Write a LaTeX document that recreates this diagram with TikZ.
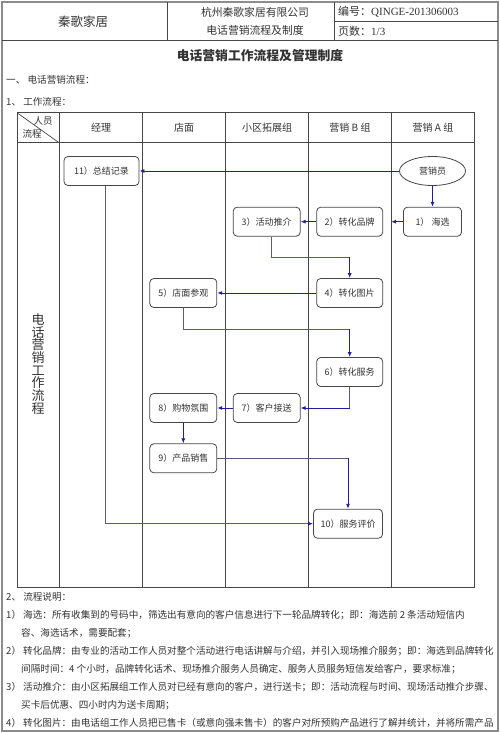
\documentclass[tikz,border=0pt]{standalone}
\usepackage{fontspec}
\setmainfont{Liberation Serif}
\newfontfamily\cjk{Noto Sans CJK SC}
\usetikzlibrary{arrows.meta,shapes.geometric}
\definecolor{txt}{RGB}{51,51,51}
\definecolor{linec}{RGB}{70,70,70}
\definecolor{framec}{RGB}{140,140,140}
\definecolor{arrblue}{RGB}{30,30,160}
\definecolor{elbc}{RGB}{90,90,125}
\tikzset{
  box/.style={draw=linec, line width=0.8pt, rounded corners=4pt, fill=white,
    minimum width=66pt, minimum height=29pt, inner sep=0pt,
    font=\cjk\fontsize{9}{11}\selectfont},
  arr/.style={draw=arrblue, line width=0.9pt, -{Latex[length=5pt,width=4pt]}},
  elb/.style={draw=elbc, line width=0.9pt},
  lane/.style={draw=linec, line width=0.7pt},
  hdr/.style={font=\cjk\fontsize{10}{12}\selectfont, inner sep=0pt},
  body/.style={anchor=base west, inner sep=0pt, font=\cjk\fontsize{9.6}{11}\selectfont},
}
\begin{document}
\begin{tikzpicture}[x=1pt,y=-1pt,text=txt]
\useasboundingbox (0,0) rectangle (500,733);
\fill[white] (0,0) rectangle (500,733);
% outer frame
\draw[framec, line width=2pt] (2,2) rectangle (498,731);
% header table
\draw[linec, line width=0.8pt] (2,40) -- (498,40);
\draw[linec, line width=0.8pt] (167,2) -- (167,40);
\draw[linec, line width=0.8pt] (334,2) -- (334,40);
\draw[linec, line width=0.8pt] (334,21) -- (498,21);
\node[font=\cjk\fontsize{12.5}{14}\selectfont] (brand) at (83,22) {秦歌家居};
\node[font=\cjk\fontsize{10.8}{13}\selectfont] (comp) at (255,12) {杭州秦歌家居有限公司};
\node[font=\cjk\fontsize{10.8}{13}\selectfont] (doc) at (255,30.5) {电话营销流程及制度};
\node[anchor=west, inner sep=0pt, font=\fontsize{11}{13}\selectfont] (code) at (338,12) {{\cjk 编号：}QINGE-201306003};
\node[anchor=west, inner sep=0pt, font=\fontsize{11}{13}\selectfont] (page) at (338,31.5) {{\cjk 页数：}1/3};
% title
\node[font=\cjk\bfseries\fontsize{12.8}{15}\selectfont] (title) at (260,55.5) {电话营销工作流程及管理制度};
\node[anchor=west, inner sep=0pt, font=\cjk\fontsize{9.6}{11}\selectfont] (sec1) at (6,80) {一、 电话营销流程：};
\node[anchor=west, inner sep=0pt, font=\cjk\fontsize{9.6}{11}\selectfont] (sec11) at (6,102) {1、 工作流程：};
% swimlane table
\draw[lane] (17,112.7) rectangle (474.3,587.3);
\foreach \xx in {59,142.7,225.7,308.7,391.7} \draw[lane] (\xx,112.7) -- (\xx,587.3);
\draw[linec, line width=1.3pt] (17,142.7) -- (474.3,142.7);
\draw[lane] (17,112.7) -- (59,142.7);
\node[font=\cjk\fontsize{9.5}{11}\selectfont, inner sep=0pt] (ry) at (43,120.5) {人员};
\node[font=\cjk\fontsize{9.5}{11}\selectfont, inner sep=0pt] (lc) at (32,134) {流程};
\node[hdr] (h1) at (101,127.5) {经理};
\node[hdr] (h2) at (184,127.5) {店面};
\node[hdr] (h3) at (267,127.5) {小区拓展组};
\node[hdr] (h4) at (350,127.5) {营销 B 组};
\node[hdr] (h5) at (433,127.5) {营销 A 组};
\node[font=\cjk\fontsize{13}{13}\selectfont, align=center, inner sep=0pt] (vl) at (38,364)
  {电\\[-0.3pt]话\\[-0.3pt]营\\[-0.3pt]销\\[-0.3pt]工\\[-0.3pt]作\\[-0.3pt]流\\[-0.3pt]程};
% nodes
\node[box, minimum width=75pt] (b11) at (101.5,171) {11）总结记录};
\node[draw=linec, line width=0.8pt, ellipse, fill=white, minimum width=66pt, minimum height=29pt, inner sep=0pt,
  font=\cjk\fontsize{9}{11}\selectfont] (yxy) at (432.5,171) {营销员};
\node[box, minimum width=58pt] (b1) at (432.5,221.7) {1） 海选};
\node[box] (b2) at (349.7,221.7) {2）转化品牌};
\node[box, minimum width=67pt] (b3) at (266.7,221.7) {3）活动推介};
\node[box] (b4) at (349.7,293) {4）转化图片};
\node[box, minimum width=67pt] (b5) at (183.3,293) {5）店面参观};
\node[box] (b6) at (349.7,372) {6）转化服务};
\node[box, minimum width=67pt] (b7) at (266.7,408) {7）客户接送};
\node[box, minimum width=67pt] (b8) at (183.3,408) {8）购物氛围};
\node[box, minimum width=67pt] (b9) at (183.3,458.3) {9）产品销售};
\node[box, minimum width=69pt] (b10) at (348,523.7) {10）服务评价};
% connectors
\draw[arr] (yxy.west) -- (b11.east);
\draw[arr] (yxy.south) -- (b1.north);
\draw[arr, shorten >=8pt] (b1.west) -- (b2.east);
\draw[arr] (b2.west) -- (b3.east);
\coordinate (c34) at (349.7,257.3);
\draw[elb] ([xshift=5pt]b3.south) |- (c34);
\draw[arr] (c34) -- (b4.north);
\draw[arr] (b4.west) -- (b5.east);
\coordinate (c56) at (349.7,329.3);
\draw[elb] (b5.south) |- (c56);
\draw[arr] (c56) -- (b6.north);
\coordinate (c67) at (349.7,408);
\draw[elb] (b6.south) -- (c67);
\draw[arr] (c67) -- (b7.east);
\draw[arr] (b7.west) -- (b8.east);
\draw[arr] (b8.south) -- (b9.north);
\coordinate (c910) at (348,458.3);
\draw[elb] (b9.east) -- (c910);
\draw[arr] (c910) -- (b10.north);
\coordinate (c1110) at (105.5,523.7);
\coordinate (c10in) at ([xshift=-5pt]b10.west);
\draw[elb, line width=1.4pt] ([xshift=4pt]b11.south) -- (c1110) -- (c10in);
\draw[arr] (c10in) -- (b10.west);
% explanation text
\node[body] (e0) at (6,600.2) {2、 流程说明：};
\node[body] (e1n) at (6,618.2) {1）};
\node[body] (e1) at (23,618.2) {海选：所有收集到的号码中，筛选出有意向的客户信息进行下一轮品牌转化；即：海选前 2 条活动短信内};
\node[body] (e1b) at (21,636.2) {容、海选话术，需要配套；};
\node[body] (e2n) at (6,654.2) {2）};
\node[body] (e2) at (23,654.2) {转化品牌：由专业的活动工作人员对整个活动进行电话讲解与介绍，并引入现场推介服务；即：海选到品牌转化};
\node[body] (e2b) at (21,672.2) {间隔时间：4 个小时，品牌转化话术、现场推介服务人员确定、服务人员服务短信发给客户，要求标准；};
\node[body] (e3n) at (6,690.2) {3）};
\node[body] (e3) at (23,690.2) {活动推介：由小区拓展组工作人员对已经有意向的客户，进行送卡；即：活动流程与时间、现场活动推介步骤、};
\node[body] (e3b) at (21,708.2) {买卡后优惠、四小时内为送卡周期；};
\node[body] (e4n) at (6,726.2) {4）};
\node[body] (e4) at (23,726.2) {转化图片：由电话组工作人员把已售卡（或意向强未售卡）的客户对所预购产品进行了解并统计，并将所需产品};
\end{tikzpicture}
\end{document}
